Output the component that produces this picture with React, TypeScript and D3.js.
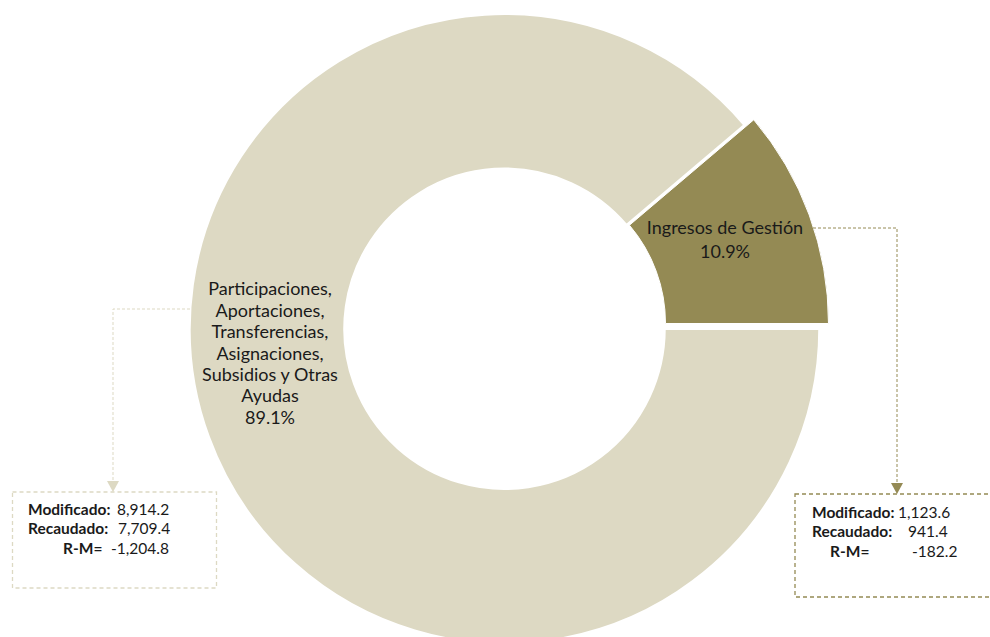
import React from "react";
import * as d3 from "d3";

const categories = ["Participaciones, Aportaciones, Transferencias, Asignaciones, Subsidios y Otras Ayudas", "Ingresos de Gestión"];
const labelLines = [
  ["Participaciones,", "Aportaciones,", "Transferencias,", "Asignaciones,", "Subsidios y Otras", "Ayudas"],
  ["Ingresos de Gestión"],
];
const modificado = [8914.2, 1123.6];
const recaudado = [7709.4, 941.4];
const colors = ["#DDD9C3", "#948A54"];
const boxColors = ["#DDD9C3", "#948A54"];

const W = 990;
const H = 637;
const cx = 504.5;
const cy = 328.8;
const rOuter = 315;
const rInner = 160;

const locale = d3.formatLocale({ decimal: ".", thousands: ",", grouping: [3], currency: ["$", ""], minus: "-" });
const fmt = locale.format(",.1f");

export default function App() {
  const pie = d3
    .pie<number>()
    .sort(null)
    .startAngle(Math.PI / 2)
    .endAngle(Math.PI / 2 + 2 * Math.PI);
  const arcs = pie(modificado);
  const totalRec = d3.sum(recaudado);
  const pct = recaudado.map((v) => d3.format(".1f")((v / totalRec) * 100) + "%");

  const bigArc = d3.arc<any>().innerRadius(rInner).outerRadius(rOuter);
  const smallArc = d3.arc<any>().innerRadius(152).outerRadius(315);

  const font = "Lato, 'Open Sans', sans-serif";
  const textColor = "#1a1a1a";
  const fs = 15.5;

  const boxes = [
    {
      x: 12.5, y: 492, w: 204, h: 96,
      lx: [28, 28, 63], vx: [117, 118, 111], ly: [510, 529, 549],
      arrowX: 113, lineFrom: [190, 309], arrowTop: 492,
    },
    {
      x: 795, y: 494, w: 210, h: 103,
      lx: [812, 812, 830], vx: [898, 908, 912], ly: [513, 532, 552],
      arrowX: 897, lineFrom: [813, 228], arrowTop: 494,
    },
  ];

  return (
    <svg width={W} height={H} style={{ position: "absolute", left: 0, top: 0, background: "#fff" }} fontFamily={font}>
      <g transform={`translate(${cx},${cy})`}>
        <path d={bigArc(arcs[0]) || ""} fill={colors[0]} stroke="#fff" strokeWidth={2.5} />
      </g>
      <g transform={`translate(${cx + 9},${cy - 5.3})`}>
        <path d={smallArc(arcs[1]) || ""} fill={colors[1]} stroke="#fff" strokeWidth={1} />
      </g>

      {/* slice labels */}
      <text x={270} textAnchor="middle" fontSize={18} fill={textColor}>
        {labelLines[0].map((l, i) => (
          <tspan key={i} x={270} y={289 + 21.4 * i} dy="0.35em">{l}</tspan>
        ))}
        <tspan x={270} y={289 + 21.4 * labelLines[0].length} dy="0.35em">{pct[0]}</tspan>
      </text>
      <text x={725} textAnchor="middle" fontSize={18} fill={textColor}>
        <tspan x={725} y={228} dy="0.35em">{labelLines[1][0]}</tspan>
        <tspan x={725} y={252} dy="0.35em">{pct[1]}</tspan>
      </text>

      {boxes.map((b, i) => {
        const diff = recaudado[i] - modificado[i];
        return (
          <g key={i}>
            <polyline
              points={`${b.lineFrom[0]},${b.lineFrom[1]} ${b.arrowX},${b.lineFrom[1]} ${b.arrowX},${b.arrowTop - 10}`}
              fill="none"
              stroke={boxColors[i]}
              strokeWidth={1}
              strokeDasharray="3,2"
            />
            <path
              d={`M${b.arrowX - 6},${b.arrowTop - 11} L${b.arrowX + 6},${b.arrowTop - 11} L${b.arrowX},${b.arrowTop} Z`}
              fill={boxColors[i]}
            />
            <rect
              x={b.x}
              y={b.y}
              width={b.w}
              height={b.h}
              fill="#fff"
              stroke={boxColors[i]}
              strokeWidth={1.3}
              strokeDasharray="4,3"
            />
            <text fontSize={fs} fill={textColor}>
              <tspan x={b.lx[0]} y={b.ly[0]} dy="0.35em" fontWeight="bold">Modificado:</tspan>
              <tspan x={b.vx[0]} y={b.ly[0]} dy="0.35em">{fmt(modificado[i])}</tspan>
            </text>
            <text fontSize={fs} fill={textColor}>
              <tspan x={b.lx[1]} y={b.ly[1]} dy="0.35em" fontWeight="bold">Recaudado:</tspan>
              <tspan x={b.vx[1]} y={b.ly[1]} dy="0.35em">{fmt(recaudado[i])}</tspan>
            </text>
            <text fontSize={fs} fill={textColor}>
              <tspan x={b.lx[2]} y={b.ly[2]} dy="0.35em" fontWeight="bold">R-M=</tspan>
              <tspan x={b.vx[2]} y={b.ly[2]} dy="0.35em">{fmt(diff)}</tspan>
            </text>
          </g>
        );
      })}
    </svg>
  );
}
